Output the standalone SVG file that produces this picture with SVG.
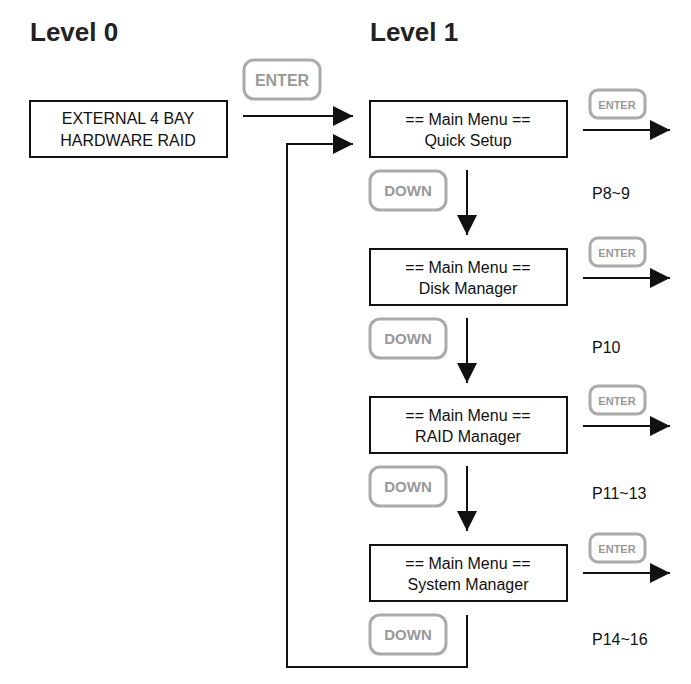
<svg xmlns="http://www.w3.org/2000/svg" width="691" height="684" viewBox="0 0 691 684">
<style>
text{font-family:"Liberation Sans",Arial,sans-serif}
.h{font-size:26px;font-weight:bold;fill:#222}
.box{fill:#fff;stroke:#111;stroke-width:2}
.t{font-size:16px;fill:#111;text-anchor:middle}
.btn{fill:#fff;stroke:#aaa;stroke-width:3}
.bt{font-weight:bold;fill:#999;text-anchor:middle}
.ln{fill:none;stroke:#111;stroke-width:2}
.p{font-size:16px;fill:#111}
</style>
<defs><marker id="a" markerWidth="10" markerHeight="10" refX="9" refY="5" orient="auto" markerUnits="userSpaceOnUse" viewBox="0 0 10 10"><path d="M0,0 L10,5 L0,10z" fill="#111"/></marker>
<marker id="A" viewBox="0 0 20 20" refX="20" refY="10" markerWidth="20" markerHeight="20" orient="auto" markerUnits="userSpaceOnUse"><path d="M0,0 L20,10 L0,20z" fill="#111"/></marker></defs>
<text class="h" x="30" y="41">Level 0</text>
<text class="h" x="370" y="41">Level 1</text>
<g id="connectors">
<path class="ln" d="M243,116 H353" marker-end="url(#A)"/>
<path class="ln" d="M467,615 V667 H287 V144 H353" marker-end="url(#A)"/>
<path class="ln" d="M467,170 V235" marker-end="url(#A)"/>
<path class="ln" d="M467,318 V383" marker-end="url(#A)"/>
<path class="ln" d="M467,466 V531" marker-end="url(#A)"/>
<path class="ln" d="M583,130 H670" marker-end="url(#A)"/>
<path class="ln" d="M583,278 H670" marker-end="url(#A)"/>
<path class="ln" d="M583,426 H670" marker-end="url(#A)"/>
<path class="ln" d="M583,573 H670" marker-end="url(#A)"/>
</g>
<g id="level0"><rect class="box" x="30" y="101" width="197" height="56"/><text class="t" x="128" y="124">EXTERNAL 4 BAY</text><text class="t" x="128" y="146">HARDWARE RAID</text></g>
<g id="enter0"><rect class="btn" x="244" y="60" width="76" height="39" rx="10"/><text class="bt" x="282" y="86" font-size="16">ENTER</text></g>
<g id="m1"><rect class="box" x="370" y="101" width="197" height="56"/><text class="t" x="468" y="125">== Main Menu ==</text><text class="t" x="468" y="146">Quick Setup</text></g>
<g id="m2"><rect class="box" x="370" y="249" width="197" height="56"/><text class="t" x="468" y="273">== Main Menu ==</text><text class="t" x="468" y="294">Disk Manager</text></g>
<g id="m3"><rect class="box" x="370" y="397" width="197" height="56"/><text class="t" x="468" y="421">== Main Menu ==</text><text class="t" x="468" y="442">RAID Manager</text></g>
<g id="m4"><rect class="box" x="370" y="545" width="197" height="56"/><text class="t" x="468" y="569">== Main Menu ==</text><text class="t" x="468" y="590">System Manager</text></g>
<g id="e1"><rect class="btn" x="590" y="90" width="55" height="28" rx="8" stroke-width="2"/><text class="bt" x="617" y="109" font-size="11">ENTER</text></g>
<g id="e2"><rect class="btn" x="590" y="238" width="55" height="28" rx="8" stroke-width="2"/><text class="bt" x="617" y="257" font-size="11">ENTER</text></g>
<g id="e3"><rect class="btn" x="590" y="386" width="55" height="28" rx="8" stroke-width="2"/><text class="bt" x="617" y="405" font-size="11">ENTER</text></g>
<g id="e4"><rect class="btn" x="590" y="534" width="55" height="28" rx="8" stroke-width="2"/><text class="bt" x="617" y="553" font-size="11">ENTER</text></g>
<g id="d1"><rect class="btn" x="370" y="171" width="76" height="39" rx="10"/><text class="bt" x="408" y="196" font-size="15">DOWN</text></g>
<g id="d2"><rect class="btn" x="370" y="319" width="76" height="39" rx="10"/><text class="bt" x="408" y="344" font-size="15">DOWN</text></g>
<g id="d3"><rect class="btn" x="370" y="467" width="76" height="39" rx="10"/><text class="bt" x="408" y="492" font-size="15">DOWN</text></g>
<g id="d4"><rect class="btn" x="370" y="615" width="76" height="39" rx="10"/><text class="bt" x="408" y="640" font-size="15">DOWN</text></g>
<text class="p" x="592" y="199">P8~9</text>
<text class="p" x="592" y="353">P10</text>
<text class="p" x="592" y="499">P11~13</text>
<text class="p" x="592" y="645">P14~16</text>
</svg>
